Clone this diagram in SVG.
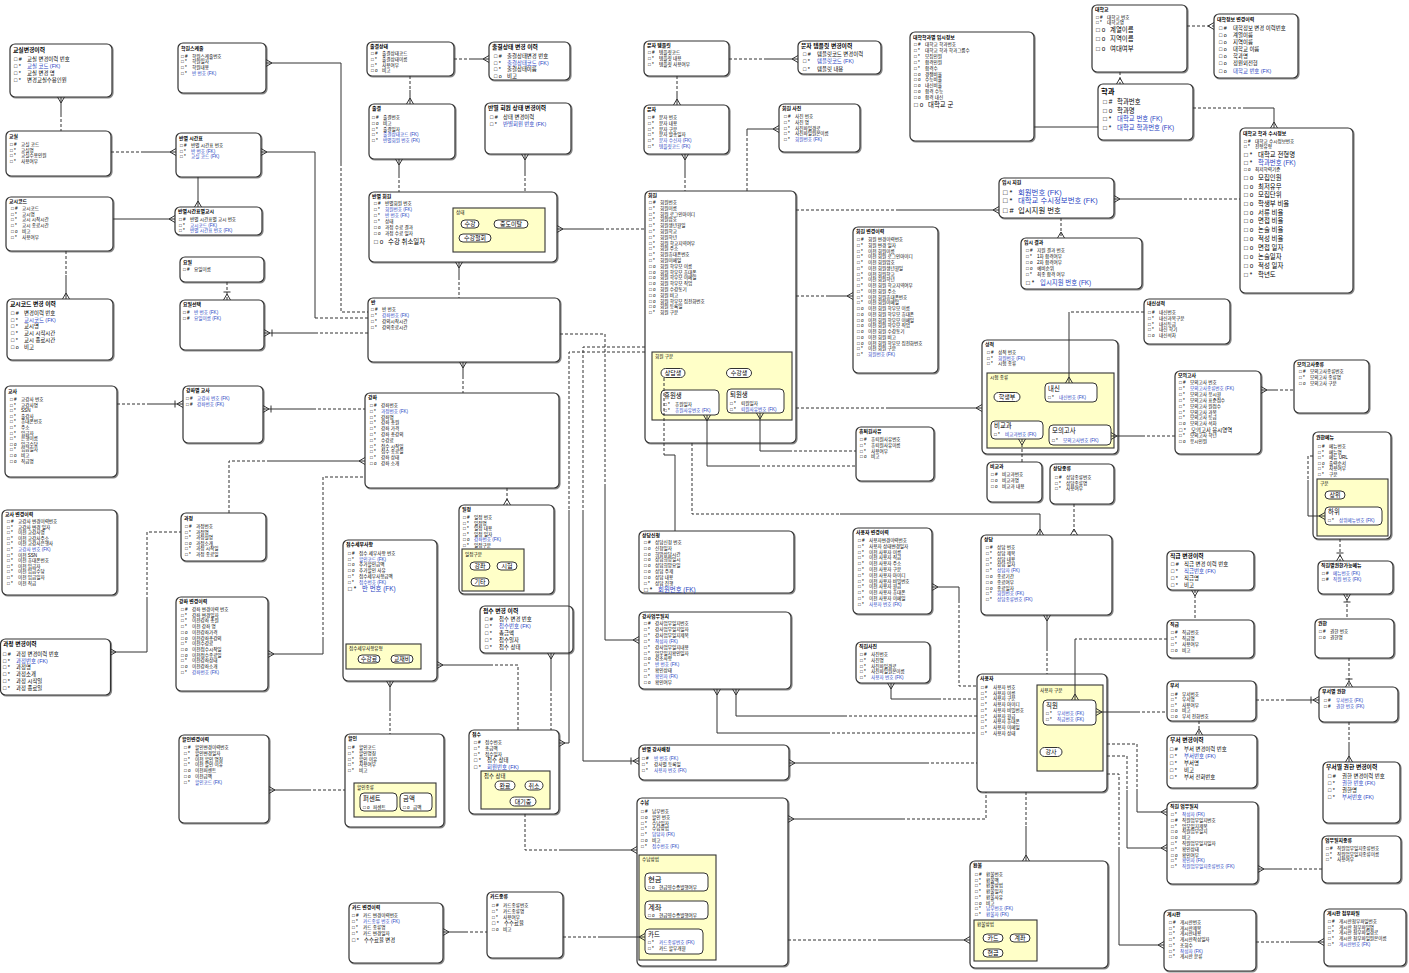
<svg xmlns="http://www.w3.org/2000/svg" width="1409" height="973" viewBox="0 0 1409 973">
<style>
text{font-family:"Liberation Sans","Noto Sans CJK KR",sans-serif;fill:#000}
.t{font-size:4.9px;font-weight:bold}
.tm{font-size:5.8px;font-weight:bold}
.s{font-size:4.6px}
.m{font-size:5.4px}
.l{font-size:6.4px}
.xl{font-size:7.4px}
.fk{fill:#1f3fbf}
.b{fill:#fff;stroke:#333;stroke-width:1.2;filter:url(#sh)}
.sub{fill:#ffffc8;stroke:#333;stroke-width:1.1}
.ch{fill:#fff;stroke:#333;stroke-width:1}
.ov{fill:#fff;stroke:#333;stroke-width:1}
.oc{text-anchor:middle;font-size:6px}
#connectors path{fill:none;stroke:#333;stroke-width:1}
#connectors .d{stroke-dasharray:3 2}
</style>
<defs>
<filter id="sh" x="-5%" y="-5%" width="115%" height="115%"><feDropShadow dx="1" dy="1" stdDeviation="0.5" flood-color="#888"/></filter>
<marker id="cf" viewBox="-10 -5 11 10" refX="0" refY="0" markerWidth="11" markerHeight="10" markerUnits="userSpaceOnUse" orient="auto-start-reverse"><path d="M-6,0L0,-3.5M-6,0L0,3.5" fill="none" stroke="#333" stroke-width="1"/></marker>
<marker id="cb" viewBox="-10 -5 11 10" refX="0" refY="0" markerWidth="11" markerHeight="10" markerUnits="userSpaceOnUse" orient="auto-start-reverse"><path d="M-6,0L0,-3.5M-6,0L0,3.5M-8,-3.5V3.5" fill="none" stroke="#333" stroke-width="1"/></marker>
</defs>
<rect width="1409" height="973" fill="#fff"/>

<g id="ent01" class="ent"><rect class="b" x="10" y="44" width="102" height="53" rx="5"/>
<text class="tm" x="13" y="51.5">교실변경이력</text>
<text class="m"><tspan x="14" y="61">□ #</tspan><tspan x="27">교실 변경이력 번호</tspan><tspan x="14" y="68">□ *</tspan><tspan x="27" class="fk">교실 코드 (FK)</tspan><tspan x="14" y="75">□ *</tspan><tspan x="27">교실 변경 명</tspan><tspan x="14" y="82">□ *</tspan><tspan x="27">변경교실수용인원</tspan></text></g>

<g id="ent02" class="ent"><rect class="b" x="178" y="43" width="88" height="50" rx="5"/>
<text class="t" x="181" y="49.5">학원스케줄</text>
<text class="s"><tspan x="181" y="57.5">□ #</tspan><tspan x="192">학원스케줄번호</tspan><tspan x="181" y="63.2">□ *</tspan><tspan x="192">학원일자</tspan><tspan x="181" y="68.9">□ *</tspan><tspan x="192">학원내용</tspan><tspan x="181" y="74.6">□ *</tspan><tspan x="192" class="fk">반 번호 (FK)</tspan></text></g>

<g id="ent03" class="ent"><rect class="b" x="6" y="131" width="105" height="45" rx="5"/>
<text class="t" x="9" y="138">교실</text>
<text class="s"><tspan x="10" y="146">□ #</tspan><tspan x="21">교실 코드</tspan><tspan x="10" y="151.7">□ *</tspan><tspan x="21">교실명</tspan><tspan x="10" y="157.4">□ *</tspan><tspan x="21">교실수용인원</tspan><tspan x="10" y="163.1">□ *</tspan><tspan x="21">사용여부</tspan></text></g>

<g id="ent04" class="ent"><rect class="b" x="176" y="133" width="85" height="44" rx="5"/>
<text class="t" x="179" y="139.5">반별 시간표</text>
<text class="s"><tspan x="180" y="147">□ #</tspan><tspan x="191">반별 시간표 번호</tspan><tspan x="180" y="152.7">□ *</tspan><tspan x="191" class="fk">반 번호 (FK)</tspan><tspan x="180" y="158.4">□ *</tspan><tspan x="191" class="fk">교실 코드 (FK)</tspan></text></g>

<g id="ent05" class="ent"><rect class="b" x="6" y="197" width="107" height="54" rx="5"/>
<text class="t" x="9" y="203">교시코드</text>
<text class="s"><tspan x="11" y="210">□ #</tspan><tspan x="22">교시코드</tspan><tspan x="11" y="215.7">□ *</tspan><tspan x="22">교시명</tspan><tspan x="11" y="221.4">□ *</tspan><tspan x="22">교시 시작시간</tspan><tspan x="11" y="227.1">□ *</tspan><tspan x="22">교시 종료시간</tspan><tspan x="11" y="232.8">□ o</tspan><tspan x="22">비고</tspan><tspan x="11" y="238.5">□ *</tspan><tspan x="22">사용여부</tspan></text></g>

<g id="ent06" class="ent"><rect class="b" x="175" y="207" width="87" height="28" rx="5"/>
<text class="t" x="178" y="213">반별시간표별교시</text>
<text class="s"><tspan x="179" y="221">□ #</tspan><tspan x="190">반별 시간표별 교시 번호</tspan><tspan x="179" y="226.7">□ *</tspan><tspan x="190" class="fk">교시코드 (FK)</tspan><tspan x="179" y="232.4">□ *</tspan><tspan x="190" class="fk">반별 시간표 번호 (FK)</tspan></text></g>

<g id="ent07" class="ent"><rect class="b" x="180" y="257" width="84" height="25" rx="5"/>
<text class="t" x="183" y="264">요일</text>
<text class="s"><tspan x="183" y="271">□ #</tspan><tspan x="194">요일이름</tspan></text></g>

<g id="ent08" class="ent"><rect class="b" x="180" y="300" width="84" height="50" rx="5"/>
<text class="t" x="183" y="306">요일선택</text>
<text class="s"><tspan x="183" y="314">□ #</tspan><tspan x="194" class="fk">반 번호 (FK)</tspan><tspan x="183" y="319.7">□ #</tspan><tspan x="194" class="fk">요일이름 (FK)</tspan></text></g>

<g id="ent09" class="ent"><rect class="b" x="7" y="299" width="106" height="61" rx="5"/>
<text class="tm" x="10" y="306">교시코드 변경 이력</text>
<text class="m"><tspan x="11" y="315">□ #</tspan><tspan x="24">변경이력 번호</tspan><tspan x="11" y="321.7">□ *</tspan><tspan x="24" class="fk">교시코드 (FK)</tspan><tspan x="11" y="328.4">□ *</tspan><tspan x="24">교시명</tspan><tspan x="11" y="335.1">□ *</tspan><tspan x="24">교시 시작시간</tspan><tspan x="11" y="341.8">□ *</tspan><tspan x="24">교시 종료시간</tspan><tspan x="11" y="348.5">□ o</tspan><tspan x="24">비고</tspan></text></g>

<g id="ent10" class="ent"><rect class="b" x="5" y="386" width="112" height="91" rx="5"/>
<text class="t" x="8" y="393">교사</text>
<text class="s"><tspan x="10" y="401">□ #</tspan><tspan x="21">교강사 번호</tspan><tspan x="10" y="406.6">□ *</tspan><tspan x="21">교강사명</tspan><tspan x="10" y="412.2">□ *</tspan><tspan x="21">SSN</tspan><tspan x="10" y="417.8">□ *</tspan><tspan x="21">출강사</tspan><tspan x="10" y="423.4">□ *</tspan><tspan x="21">휴대폰번호</tspan><tspan x="10" y="429">□ *</tspan><tspan x="21">주소</tspan><tspan x="10" y="434.6">□ *</tspan><tspan x="21">입금자</tspan><tspan x="10" y="440.2">□ *</tspan><tspan x="21">은행이름</tspan><tspan x="10" y="445.8">□ o</tspan><tspan x="21">입금수당</tspan><tspan x="10" y="451.4">□ *</tspan><tspan x="21">입금일자</tspan><tspan x="10" y="457">□ o</tspan><tspan x="21">비고</tspan><tspan x="10" y="462.6">□ o</tspan><tspan x="21">직급명</tspan></text></g>

<g id="ent11" class="ent"><rect class="b" x="183" y="386" width="80" height="57" rx="5"/>
<text class="t" x="186" y="392">강좌별 교사</text>
<text class="s"><tspan x="186" y="400">□ #</tspan><tspan x="197" class="fk">교강사 번호 (FK)</tspan><tspan x="186" y="405.7">□ #</tspan><tspan x="197" class="fk">강좌번호 (FK)</tspan></text></g>

<g id="ent12" class="ent"><rect class="b" x="2" y="510" width="115" height="85" rx="5"/>
<text class="t" x="5" y="515.5">교사 변경이력</text>
<text class="s"><tspan x="7" y="523">□ #</tspan><tspan x="18">교강사 변경이력번호</tspan><tspan x="7" y="528.6">□ *</tspan><tspan x="18">교강사 변경 일자</tspan><tspan x="7" y="534.2">□ *</tspan><tspan x="18">이전 교강사명</tspan><tspan x="7" y="539.8">□ *</tspan><tspan x="18">이전 교강사주소</tspan><tspan x="7" y="545.4">□ *</tspan><tspan x="18">이전 교강사은행사</tspan><tspan x="7" y="551">□ *</tspan><tspan x="18" class="fk">교강사 번호 (FK)</tspan><tspan x="7" y="556.6">□ *</tspan><tspan x="18">이전 SSN</tspan><tspan x="7" y="562.2">□ *</tspan><tspan x="18">이전 휴대폰번호</tspan><tspan x="7" y="567.8">□ *</tspan><tspan x="18">이전 입금자</tspan><tspan x="7" y="573.4">□ *</tspan><tspan x="18">이전 입금수당</tspan><tspan x="7" y="579">□ *</tspan><tspan x="18">이전 입금일자</tspan><tspan x="7" y="584.6">□ *</tspan><tspan x="18">이전 직급</tspan></text></g>

<g id="ent13" class="ent"><rect class="b" x="181" y="513" width="85" height="48" rx="5"/>
<text class="t" x="184" y="519.5">과정</text>
<text class="s"><tspan x="185" y="528">□ #</tspan><tspan x="196">과정번호</tspan><tspan x="185" y="533.6">□ *</tspan><tspan x="196">과정명</tspan><tspan x="185" y="539.2">□ *</tspan><tspan x="196">과정설명</tspan><tspan x="185" y="544.8">□ o</tspan><tspan x="196">과정소개</tspan><tspan x="185" y="550.4">□ *</tspan><tspan x="196">과정 시작일</tspan><tspan x="185" y="556">□ *</tspan><tspan x="196">과정 종료일</tspan></text></g>

<g id="ent14" class="ent"><rect class="b" x="176" y="597" width="92" height="94" rx="5"/>
<text class="t" x="179" y="603">강좌 변경이력</text>
<text class="s"><tspan x="181" y="611">□ #</tspan><tspan x="192">강좌 변경이력 번호</tspan><tspan x="181" y="616.7">□ *</tspan><tspan x="192">강좌 변경일자</tspan><tspan x="181" y="622.4">□ *</tspan><tspan x="192">이전강좌 총원</tspan><tspan x="181" y="628.1">□ *</tspan><tspan x="192">이전 강좌 명</tspan><tspan x="181" y="633.8">□ o</tspan><tspan x="192">이전강좌가격</tspan><tspan x="181" y="639.5">□ o</tspan><tspan x="192">이전강좌총강의</tspan><tspan x="181" y="645.2">□ *</tspan><tspan x="192">이전수강료</tspan><tspan x="181" y="650.9">□ o</tspan><tspan x="192">이전접수시작일</tspan><tspan x="181" y="656.6">□ o</tspan><tspan x="192">이전접수종료일</tspan><tspan x="181" y="662.3">□ *</tspan><tspan x="192">이전강좌상태</tspan><tspan x="181" y="668">□ o</tspan><tspan x="192">이전강좌소개</tspan><tspan x="181" y="673.7">□ *</tspan><tspan x="192" class="fk">강좌번호 (FK)</tspan></text></g>

<g id="ent15" class="ent"><rect class="b" x="0.5" y="639" width="110" height="56" rx="5"/>
<text class="tm" x="3" y="645.5">과정 변경이력</text>
<text class="m"><tspan x="3" y="656">□ #</tspan><tspan x="16">과정 변경이력 번호</tspan><tspan x="3" y="662.7">□ *</tspan><tspan x="16" class="fk">과정번호 (FK)</tspan><tspan x="3" y="669.4">□ *</tspan><tspan x="16">과정명</tspan><tspan x="3" y="676.1">□ *</tspan><tspan x="16">과정소개</tspan><tspan x="3" y="682.8">□ *</tspan><tspan x="16">과정 시작일</tspan><tspan x="3" y="689.5">□ *</tspan><tspan x="16">과정 종료일</tspan></text></g>

<g id="ent16" class="ent"><rect class="b" x="179" y="735" width="90" height="88" rx="5"/>
<text class="t" x="182" y="741">할인변경이력</text>
<text class="s"><tspan x="184" y="749">□ #</tspan><tspan x="195">할인변경이력번호</tspan><tspan x="184" y="754.8">□ *</tspan><tspan x="195">할인변경일자</tspan><tspan x="184" y="760.6">□ *</tspan><tspan x="195">이전 할인 명칭</tspan><tspan x="184" y="766.4">□ *</tspan><tspan x="195">이전 할인 이유</tspan><tspan x="184" y="772.2">□ o</tspan><tspan x="195">이전퍼센트</tspan><tspan x="184" y="778">□ o</tspan><tspan x="195">이전금액</tspan><tspan x="184" y="783.8">□ *</tspan><tspan x="195" class="fk">할인코드 (FK)</tspan></text></g>

<g id="ent17" class="ent"><rect class="b" x="367" y="42" width="87" height="34" rx="5"/>
<text class="t" x="370" y="48">출결상태</text>
<text class="s"><tspan x="371" y="55">□ #</tspan><tspan x="382">출결상태코드</tspan><tspan x="371" y="60.8">□ *</tspan><tspan x="382">출결상태이름</tspan><tspan x="371" y="66.6">□ *</tspan><tspan x="382">사용여부</tspan><tspan x="371" y="72.4">□ o</tspan><tspan x="382">비고</tspan></text></g>

<g id="ent18" class="ent"><rect class="b" x="489" y="42" width="81" height="38" rx="5"/>
<text class="tm" x="492" y="49">출결상태 변경 이력</text>
<text class="m"><tspan x="494" y="58">□ #</tspan><tspan x="507">출결상태변경 번호</tspan><tspan x="494" y="64.5">□ *</tspan><tspan x="507" class="fk">출결상태코드 (FK)</tspan><tspan x="494" y="71">□ *</tspan><tspan x="507">출결상태이름</tspan><tspan x="494" y="77.5">□ o</tspan><tspan x="507">비고</tspan></text></g>

<g id="ent19" class="ent"><rect class="b" x="369" y="104" width="86" height="55" rx="5"/>
<text class="t" x="372" y="110">출결</text>
<text class="s"><tspan x="372" y="119">□ #</tspan><tspan x="383">출결번호</tspan><tspan x="372" y="124.8">□ o</tspan><tspan x="383">비고</tspan><tspan x="372" y="130.6">□ *</tspan><tspan x="383">출결일자</tspan><tspan x="372" y="136.4">□ *</tspan><tspan x="383" class="fk">출결상태코드 (FK)</tspan><tspan x="372" y="142.2">□ *</tspan><tspan x="383" class="fk">반별회원 번호 (FK)</tspan></text></g>

<g id="ent20" class="ent"><rect class="b" x="485" y="103" width="86" height="51" rx="5"/>
<text class="tm" x="488" y="110">반별 회원 상태 변경이력</text>
<text class="m"><tspan x="490" y="119">□ #</tspan><tspan x="503">상태 변경이력</tspan><tspan x="490" y="126">□ *</tspan><tspan x="503" class="fk">반별회원 번호 (FK)</tspan></text></g>

<g id="ent21" class="ent"><rect class="b" x="369" y="192" width="188" height="70" rx="5"/>
<text class="t" x="372" y="197.5">반별 회원</text>
<text class="s"><tspan x="374" y="205">□ #</tspan><tspan x="385">반별회원 번호</tspan><tspan x="374" y="211">□ *</tspan><tspan x="385" class="fk">회원번호 (FK)</tspan><tspan x="374" y="217">□ *</tspan><tspan x="385" class="fk">반 번호 (FK)</tspan><tspan x="374" y="223">□ *</tspan><tspan x="385">상태</tspan><tspan x="374" y="229">□ o</tspan><tspan x="385">과정 수료 결과</tspan><tspan x="374" y="235">□ o</tspan><tspan x="385">과정 수료 일자</tspan></text>
<text class="l"><tspan x="374" y="244">□ o</tspan><tspan x="388">수강 취소일자</tspan></text>
<rect class="sub" x="453" y="208" width="92" height="44"/>
<text class="s" x="456" y="214">상태</text>
<rect class="ov" x="461" y="220" width="18" height="8" rx="4"/><text class="oc" x="470" y="226.2">수강</text>
<rect class="ov" x="494" y="220" width="34" height="8" rx="4"/><text class="oc" x="511" y="226.2">중도이탈</text>
<rect class="ov" x="459" y="234" width="32" height="8" rx="4"/><text class="oc" x="475" y="240.2">수강철회</text></g>

<g id="ent22" class="ent"><rect class="b" x="368" y="298" width="192" height="64" rx="5"/>
<text class="t" x="371" y="304">반</text>
<text class="s"><tspan x="371" y="311">□ #</tspan><tspan x="382">반 번호</tspan><tspan x="371" y="317">□ *</tspan><tspan x="382" class="fk">강좌번호 (FK)</tspan><tspan x="371" y="323">□ *</tspan><tspan x="382">강의시작시간</tspan><tspan x="371" y="329">□ *</tspan><tspan x="382">강의종료시간</tspan></text></g>

<g id="ent23" class="ent"><rect class="b" x="365" y="393" width="194" height="95" rx="5"/>
<text class="t" x="368" y="399">강좌</text>
<text class="s"><tspan x="370" y="407">□ #</tspan><tspan x="381">강좌번호</tspan><tspan x="370" y="412.8">□ *</tspan><tspan x="381" class="fk">과정번호 (FK)</tspan><tspan x="370" y="418.6">□ *</tspan><tspan x="381">강좌명</tspan><tspan x="370" y="424.4">□ *</tspan><tspan x="381">강좌 총원</tspan><tspan x="370" y="430.2">□ *</tspan><tspan x="381">강좌 가격</tspan><tspan x="370" y="436">□ *</tspan><tspan x="381">강좌 총강의</tspan><tspan x="370" y="441.8">□ *</tspan><tspan x="381">수강료</tspan><tspan x="370" y="447.6">□ *</tspan><tspan x="381">접수 시작일</tspan><tspan x="370" y="453.4">□ *</tspan><tspan x="381">접수 종료일</tspan><tspan x="370" y="459.2">□ *</tspan><tspan x="381">강좌 상태</tspan><tspan x="370" y="465">□ o</tspan><tspan x="381">강좌 소개</tspan></text></g>

<g id="ent24" class="ent"><rect class="b" x="459" y="505" width="95" height="89" rx="5"/>
<text class="t" x="462" y="511">일정</text>
<text class="s"><tspan x="463" y="519">□ #</tspan><tspan x="474">일정 번호</tspan><tspan x="463" y="524.6">□ *</tspan><tspan x="474">일정명</tspan><tspan x="463" y="530.2">□ *</tspan><tspan x="474">일정 내용</tspan><tspan x="463" y="535.8">□ *</tspan><tspan x="474">일정 일자</tspan><tspan x="463" y="541.4">□ o</tspan><tspan x="474" class="fk">강좌번호 (FK)</tspan><tspan x="463" y="547">□ *</tspan><tspan x="474">일정구분</tspan></text>
<rect class="sub" x="462" y="549" width="62" height="42"/>
<text class="s" x="465" y="556">일정구분</text>
<rect class="ov" x="470" y="562" width="20" height="8" rx="4"/><text class="oc" x="480" y="568.2">강좌</text>
<rect class="ov" x="497" y="562" width="20" height="8" rx="4"/><text class="oc" x="507" y="568.2">시험</text>
<rect class="ov" x="471" y="578" width="18" height="8" rx="4"/><text class="oc" x="480" y="584.2">기타</text></g>

<g id="ent25" class="ent"><rect class="b" x="343" y="540" width="94" height="141" rx="5"/>
<text class="t" x="346" y="546">접수세부사항</text>
<text class="s"><tspan x="348" y="555">□ #</tspan><tspan x="359">접수 세부사항 번호</tspan><tspan x="348" y="560.7">□ *</tspan><tspan x="359" class="fk">할인코드 (FK)</tspan><tspan x="348" y="566.4">□ o</tspan><tspan x="359">추가할인금액</tspan><tspan x="348" y="572.1">□ o</tspan><tspan x="359">추가할인 사유</tspan><tspan x="348" y="577.8">□ *</tspan><tspan x="359">접수세부사항금액</tspan><tspan x="348" y="583.5">□ *</tspan><tspan x="359" class="fk">접수번호 (FK)</tspan></text>
<text class="l"><tspan x="348" y="591">□ *</tspan><tspan x="362" class="fk">반 번호 (FK)</tspan></text>
<rect class="sub" x="346" y="644" width="75" height="25"/>
<text class="s" x="349" y="649.5">접수세부사항유형</text>
<rect class="ov" x="358" y="655" width="22" height="8" rx="4"/><text class="oc" x="369" y="661.2">수강료</text>
<rect class="ov" x="391" y="655" width="22" height="8" rx="4"/><text class="oc" x="402" y="661.2">교재비</text></g>

<g id="ent26" class="ent"><rect class="b" x="480" y="606" width="93" height="47" rx="5"/>
<text class="tm" x="483" y="612.5">접수 변경 이력</text>
<text class="m"><tspan x="485" y="621">□ #</tspan><tspan x="499">접수 변경 번호</tspan><tspan x="485" y="628">□ *</tspan><tspan x="499" class="fk">접수번호 (FK)</tspan><tspan x="485" y="635">□ *</tspan><tspan x="499">총금액</tspan><tspan x="485" y="642">□ *</tspan><tspan x="499">접수일자</tspan><tspan x="485" y="649">□ *</tspan><tspan x="499">접수 상태</tspan></text></g>

<g id="ent27" class="ent"><rect class="b" x="345" y="734" width="99" height="93" rx="5"/>
<text class="t" x="348" y="740">할인</text>
<text class="s"><tspan x="348" y="749">□ #</tspan><tspan x="359">할인코드</tspan><tspan x="348" y="754.8">□ *</tspan><tspan x="359">할인명칭</tspan><tspan x="348" y="760.6">□ *</tspan><tspan x="359">할인 이유</tspan><tspan x="348" y="766.4">□ *</tspan><tspan x="359">사용여부</tspan><tspan x="348" y="772.2">□ *</tspan><tspan x="359">비고</tspan></text>
<rect class="sub" x="354" y="783" width="82" height="34"/>
<text class="s" x="357" y="789">할인종류</text>
<rect class="ch" x="360" y="793" width="37" height="18" rx="4"/>
<text class="l" x="363" y="801">퍼센트</text>
<text class="s"><tspan x="363" y="808.5">□ o</tspan><tspan x="373">퍼센트</tspan></text>
<rect class="ch" x="400" y="793" width="32" height="18" rx="4"/>
<text class="l" x="403" y="801">금액</text>
<text class="s"><tspan x="403" y="808.5">□ o</tspan><tspan x="413">금액</tspan></text></g>

<g id="ent28" class="ent"><rect class="b" x="469" y="730" width="90" height="84" rx="5"/>
<text class="t" x="472" y="735.5">접수</text>
<text class="s"><tspan x="474" y="744">□ #</tspan><tspan x="485">접수번호</tspan><tspan x="474" y="749.8">□ *</tspan><tspan x="485">총금액</tspan><tspan x="474" y="755.6">□ *</tspan><tspan x="485">접수일자</tspan></text>
<text class="m"><tspan x="474" y="762">□ *</tspan><tspan x="487">접수 상태</tspan><tspan x="474" y="768.5">□ *</tspan><tspan x="487" class="fk">회원번호 (FK)</tspan></text>
<rect class="sub" x="481" y="771" width="69" height="38"/>
<text class="m" x="484" y="777.5">접수 상태</text>
<rect class="ov" x="495" y="781" width="20" height="9" rx="4.5"/><text class="oc" x="505" y="787.6">완료</text>
<rect class="ov" x="525" y="781" width="18" height="9" rx="4.5"/><text class="oc" x="534" y="787.6">취소</text>
<rect class="ov" x="510" y="797" width="26" height="9" rx="4.5"/><text class="oc" x="523" y="803.6">대기중</text></g>

<g id="ent29" class="ent"><rect class="b" x="349" y="903" width="94" height="60" rx="5"/>
<text class="t" x="352" y="909">카드 변경이력</text>
<text class="s"><tspan x="352" y="917">□ #</tspan><tspan x="363">카드 변경이력번호</tspan><tspan x="352" y="923">□ *</tspan><tspan x="363" class="fk">카드종류 번호 (FK)</tspan><tspan x="352" y="929">□ *</tspan><tspan x="363">카드 종류명</tspan><tspan x="352" y="935">□ *</tspan><tspan x="363">카드 변경일자</tspan></text>
<text class="m"><tspan x="352" y="942">□ *</tspan><tspan x="364">수수료율 변경</tspan></text></g>

<g id="ent30" class="ent"><rect class="b" x="487" y="892" width="76" height="66" rx="5"/>
<text class="t" x="490" y="898">카드종류</text>
<text class="s"><tspan x="492" y="907">□ #</tspan><tspan x="503">카드종류번호</tspan><tspan x="492" y="912.8">□ *</tspan><tspan x="503">카드종류명</tspan><tspan x="492" y="918.6">□ *</tspan><tspan x="503">사용여부</tspan><tspan x="492" y="931">□ o</tspan><tspan x="503">비고</tspan></text>
<text class="m"><tspan x="492" y="925">□ *</tspan><tspan x="504">수수료율</tspan></text></g>

<g id="ent31" class="ent"><rect class="b" x="644" y="41" width="85" height="35" rx="5"/>
<text class="t" x="647" y="46.5">문자 템플릿</text>
<text class="s"><tspan x="648" y="54">□ #</tspan><tspan x="659">템플릿코드</tspan><tspan x="648" y="60">□ *</tspan><tspan x="659">템플릿 내용</tspan><tspan x="648" y="66">□ *</tspan><tspan x="659">템플릿 사용여부</tspan></text></g>

<g id="ent32" class="ent"><rect class="b" x="798" y="41" width="83" height="33" rx="5"/>
<text class="tm" x="801" y="48">문자 템플릿 변경이력</text>
<text class="m"><tspan x="803" y="56">□ #</tspan><tspan x="817">템플릿코드 변경이력</tspan><tspan x="803" y="63.3">□ *</tspan><tspan x="817" class="fk">템플릿코드 (FK)</tspan><tspan x="803" y="70.6">□ *</tspan><tspan x="817">템플릿 내용</tspan></text></g>

<g id="ent33" class="ent"><rect class="b" x="644" y="105" width="85" height="49" rx="5"/>
<text class="t" x="647" y="110.5">문자</text>
<text class="s"><tspan x="648" y="119">□ #</tspan><tspan x="659">문자 번호</tspan><tspan x="648" y="124.8">□ *</tspan><tspan x="659">문자 내용</tspan><tspan x="648" y="130.6">□ *</tspan><tspan x="659">문자 구분</tspan><tspan x="648" y="136.4">□ *</tspan><tspan x="659">문자 발송일자</tspan><tspan x="648" y="142.2">□ *</tspan><tspan x="659" class="fk">문자 수신자 (FK)</tspan><tspan x="648" y="148">□ *</tspan><tspan x="659" class="fk">템플릿코드 (FK)</tspan></text></g>

<g id="ent34" class="ent"><rect class="b" x="779" y="104" width="81" height="48" rx="5"/>
<text class="t" x="782" y="109.5">회원 사진</text>
<text class="s"><tspan x="784" y="118">□ #</tspan><tspan x="795">사진 번호</tspan><tspan x="784" y="123.8">□ *</tspan><tspan x="795">사진 명</tspan><tspan x="784" y="129.6">□ *</tspan><tspan x="795">사진파일경로</tspan><tspan x="784" y="135.4">□ *</tspan><tspan x="795">사진파일원본이름</tspan><tspan x="784" y="141.2">□ *</tspan><tspan x="795" class="fk">회원번호 (FK)</tspan></text></g>

<g id="ent35" class="ent"><rect class="b" x="645" y="191" width="151" height="252" rx="5"/>
<text class="t" x="648" y="197">회원</text>
<text class="s"><tspan x="649" y="204">□ #</tspan><tspan x="660">회원번호</tspan><tspan x="649" y="209.8">□ *</tspan><tspan x="660">회원이름</tspan><tspan x="649" y="215.6">□ *</tspan><tspan x="660">회원 로그인아이디</tspan><tspan x="649" y="221.4">□ *</tspan><tspan x="660">회원암호</tspan><tspan x="649" y="227.2">□ *</tspan><tspan x="660">회원생년월일</tspan><tspan x="649" y="233">□ *</tspan><tspan x="660">회원학교</tspan><tspan x="649" y="238.8">□ *</tspan><tspan x="660">회원학년</tspan><tspan x="649" y="244.6">□ *</tspan><tspan x="660">회원 학교지역여부</tspan><tspan x="649" y="250.4">□ *</tspan><tspan x="660">회원 주소</tspan><tspan x="649" y="256.2">□ *</tspan><tspan x="660">회원휴대폰번호</tspan><tspan x="649" y="262">□ *</tspan><tspan x="660">회원이메일</tspan><tspan x="649" y="267.8">□ o</tspan><tspan x="660">회원 학부모 이름</tspan><tspan x="649" y="273.6">□ o</tspan><tspan x="660">회원 학부모 휴대폰</tspan><tspan x="649" y="279.4">□ o</tspan><tspan x="660">회원 학부모 이메일</tspan><tspan x="649" y="285.2">□ o</tspan><tspan x="660">회원 학부모 직업</tspan><tspan x="649" y="291">□ o</tspan><tspan x="660">회원 수강동기</tspan><tspan x="649" y="296.8">□ o</tspan><tspan x="660">회원 비고</tspan><tspan x="649" y="302.6">□ o</tspan><tspan x="660">회원 학부모 집전화번호</tspan><tspan x="649" y="308.4">□ o</tspan><tspan x="660">회원 등록일</tspan><tspan x="649" y="314.2">□ *</tspan><tspan x="660">회원 구분</tspan></text>
<rect class="sub" x="652" y="352" width="140" height="68"/>
<text class="s" x="655" y="358">회원 구분</text>
<rect class="ov" x="661" y="368.5" width="24" height="9" rx="4.5"/><text class="oc" x="673" y="375.2">상담생</text>
<rect class="ov" x="726.5" y="368.5" width="25" height="9" rx="4.5"/><text class="oc" x="739" y="375.2">수강생</text>
<rect class="ch" x="661" y="390" width="58" height="25" rx="4"/>
<text class="l" x="664" y="398">휴원생</text>
<text class="s"><tspan x="664" y="406">□ *</tspan><tspan x="675">휴원일자</tspan><tspan x="664" y="412">□ *</tspan><tspan x="675" class="fk">휴원사유번호 (FK)</tspan></text>
<rect class="ch" x="727" y="389" width="57" height="24" rx="4"/>
<text class="l" x="730" y="397">퇴원생</text>
<text class="s"><tspan x="730" y="405">□ *</tspan><tspan x="741">퇴원일자</tspan><tspan x="730" y="411">□ *</tspan><tspan x="741" class="fk">퇴원사유번호 (FK)</tspan></text></g>

<g id="ent36" class="ent"><rect class="b" x="853" y="227" width="85" height="146" rx="5"/>
<text class="t" x="856" y="232.5">회원 변경이력</text>
<text class="s"><tspan x="857" y="241">□ #</tspan><tspan x="868">회원 변경이력번호</tspan><tspan x="857" y="246.75">□ *</tspan><tspan x="868">회원 변경 일자</tspan><tspan x="857" y="252.5">□ *</tspan><tspan x="868">이전 회원이름</tspan><tspan x="857" y="258.25">□ *</tspan><tspan x="868">이전 회원 로그인아이디</tspan><tspan x="857" y="264">□ *</tspan><tspan x="868">이전 회원암호</tspan><tspan x="857" y="269.75">□ *</tspan><tspan x="868">이전 회원생년월일</tspan><tspan x="857" y="275.5">□ *</tspan><tspan x="868">이전 회원학교</tspan><tspan x="857" y="281.25">□ *</tspan><tspan x="868">이전 회원학년</tspan><tspan x="857" y="287">□ *</tspan><tspan x="868">이전 회원 학교지역여부</tspan><tspan x="857" y="292.75">□ *</tspan><tspan x="868">이전 회원 주소</tspan><tspan x="857" y="298.5">□ *</tspan><tspan x="868">이전 회원휴대폰번호</tspan><tspan x="857" y="304.25">□ *</tspan><tspan x="868">이전 회원이메일</tspan><tspan x="857" y="310">□ o</tspan><tspan x="868">이전 회원 학부모 이름</tspan><tspan x="857" y="315.75">□ o</tspan><tspan x="868">이전 회원 학부모 휴대폰</tspan><tspan x="857" y="321.5">□ o</tspan><tspan x="868">이전 회원 학부모 이메일</tspan><tspan x="857" y="327.25">□ o</tspan><tspan x="868">이전 회원 학부모 직업</tspan><tspan x="857" y="333">□ o</tspan><tspan x="868">이전 회원 수강동기</tspan><tspan x="857" y="338.75">□ o</tspan><tspan x="868">이전 회원 비고</tspan><tspan x="857" y="344.5">□ o</tspan><tspan x="868">이전 회원 학부모 집전화번호</tspan><tspan x="857" y="350.25">□ *</tspan><tspan x="868">이전 회원 구분</tspan><tspan x="857" y="356">□ *</tspan><tspan x="868" class="fk">회원번호 (FK)</tspan></text></g>

<g id="ent37" class="ent"><rect class="b" x="910" y="32" width="124" height="109" rx="5"/>
<text class="t" x="913" y="38.5">대학학과별 입시정보</text>
<text class="s"><tspan x="914" y="46">□ #</tspan><tspan x="925">대학교 학과번호</tspan><tspan x="914" y="51.9">□ *</tspan><tspan x="925">대학교 학과 학과그룹수</tspan><tspan x="914" y="57.8">□ *</tspan><tspan x="925">모집인원</tspan><tspan x="914" y="63.7">□ *</tspan><tspan x="925">합격인원</tspan><tspan x="914" y="69.6">□ *</tspan><tspan x="925">합격수</tspan><tspan x="914" y="75.5">□ o</tspan><tspan x="925">경쟁비율</tspan><tspan x="914" y="81.4">□ o</tspan><tspan x="925">수능비율</tspan><tspan x="914" y="87.3">□ o</tspan><tspan x="925">내신비율</tspan><tspan x="914" y="93.2">□ o</tspan><tspan x="925">합격 수능</tspan><tspan x="914" y="99.1">□ o</tspan><tspan x="925">합격 내신</tspan></text>
<text class="l"><tspan x="914" y="106.5">□ o</tspan><tspan x="928">대학교 군</tspan></text></g>

<g id="ent38" class="ent"><rect class="b" x="1092" y="5" width="95" height="67" rx="5"/>
<text class="t" x="1095" y="10.5">대학교</text>
<text class="s"><tspan x="1096" y="18.5">□ #</tspan><tspan x="1107">대학교 번호</tspan><tspan x="1096" y="24">□ *</tspan><tspan x="1107">대학교명</tspan></text>
<text class="l"><tspan x="1096" y="31.5">□ o</tspan><tspan x="1110">계열이름</tspan><tspan x="1096" y="40.5">□ o</tspan><tspan x="1110">지역이름</tspan><tspan x="1096" y="50.5">□ o</tspan><tspan x="1110">여대여부</tspan></text></g>

<g id="ent39" class="ent"><rect class="b" x="1214" y="14" width="84" height="64" rx="5"/>
<text class="t" x="1217" y="20.5">대학정보 변경이력</text>
<text class="m"><tspan x="1219" y="30">□ #</tspan><tspan x="1233">대학정보 변경 이력번호</tspan><tspan x="1219" y="37">□ o</tspan><tspan x="1233">계열이름</tspan><tspan x="1219" y="44">□ o</tspan><tspan x="1233">지역이름</tspan><tspan x="1219" y="51">□ o</tspan><tspan x="1233">대학교 이름</tspan><tspan x="1219" y="58">□ o</tspan><tspan x="1233">학과명</tspan><tspan x="1219" y="65">□ o</tspan><tspan x="1233">정원외전형</tspan><tspan x="1219" y="72.5">□ o</tspan><tspan x="1233" class="fk">대학교 번호 (FK)</tspan></text></g>

<g id="ent40" class="ent"><rect class="b" x="1098" y="84" width="95" height="56" rx="5"/>
<text class="xl" x="1101" y="94" font-weight="bold">학과</text>
<text class="l"><tspan x="1103" y="104">□ #</tspan><tspan x="1117">학과번호</tspan><tspan x="1103" y="112.5">□ o</tspan><tspan x="1117">학과명</tspan><tspan x="1103" y="121">□ *</tspan><tspan x="1117" class="fk">대학교 번호 (FK)</tspan><tspan x="1103" y="130">□ *</tspan><tspan x="1117" class="fk">대학교 학과번호 (FK)</tspan></text></g>

<g id="ent41" class="ent"><rect class="b" x="1240" y="128" width="113" height="165" rx="5"/>
<text class="t" x="1243" y="135">대학교 학과 수시정보</text>
<text class="s"><tspan x="1244" y="142.5">□ #</tspan><tspan x="1255">대학교 수시정보번호</tspan><tspan x="1244" y="148">□ *</tspan><tspan x="1255">전형유형</tspan><tspan x="1244" y="171">□ o</tspan><tspan x="1255">최저학력기준</tspan></text>
<text class="l"><tspan x="1244" y="156.5">□ *</tspan><tspan x="1258">대학교 전형명</tspan><tspan x="1244" y="165">□ *</tspan><tspan x="1258" class="fk">학과번호 (FK)</tspan><tspan x="1244" y="180">□ o</tspan><tspan x="1258">모집인원</tspan><tspan x="1244" y="188.5">□ o</tspan><tspan x="1258">최저유무</tspan><tspan x="1244" y="197">□ o</tspan><tspan x="1258">모집단위</tspan><tspan x="1244" y="206">□ o</tspan><tspan x="1258">학생부 비율</tspan><tspan x="1244" y="214.5">□ o</tspan><tspan x="1258">서류 비율</tspan><tspan x="1244" y="223">□ o</tspan><tspan x="1258">면접 비율</tspan><tspan x="1244" y="232">□ o</tspan><tspan x="1258">논술 비율</tspan><tspan x="1244" y="241">□ o</tspan><tspan x="1258">적성 비율</tspan><tspan x="1244" y="250">□ o</tspan><tspan x="1258">면접 일자</tspan><tspan x="1244" y="259">□ o</tspan><tspan x="1258">논술일자</tspan><tspan x="1244" y="268">□ o</tspan><tspan x="1258">적성 일자</tspan><tspan x="1244" y="277">□ *</tspan><tspan x="1258">학년도</tspan></text></g>

<g id="ent42" class="ent"><rect class="b" x="999" y="178" width="115" height="40" rx="5"/>
<text class="t" x="1002" y="184">입시 지원</text>
<text class="xl"><tspan x="1003" y="194.5">□ *</tspan><tspan x="1018" class="fk">회원번호 (FK)</tspan><tspan x="1003" y="202.5">□ *</tspan><tspan x="1018" class="fk">대학교 수시정보번호 (FK)</tspan><tspan x="1003" y="212.5">□ #</tspan><tspan x="1018">입시지원 번호</tspan></text></g>

<g id="ent43" class="ent"><rect class="b" x="1021" y="238" width="121" height="51" rx="5"/>
<text class="t" x="1024" y="244">입시 결과</text>
<text class="s"><tspan x="1026" y="252">□ #</tspan><tspan x="1037">지원 결과 번호</tspan><tspan x="1026" y="258">□ *</tspan><tspan x="1037">1차 합격여부</tspan><tspan x="1026" y="264">□ o</tspan><tspan x="1037">2차 합격여부</tspan><tspan x="1026" y="270">□ o</tspan><tspan x="1037">예비순위</tspan><tspan x="1026" y="276">□ *</tspan><tspan x="1037">최종 합격 여부</tspan></text>
<text class="l"><tspan x="1026" y="284.5">□ *</tspan><tspan x="1040" class="fk">입시지원 번호 (FK)</tspan></text></g>

<g id="ent44" class="ent"><rect class="b" x="1144" y="299" width="86" height="45" rx="5"/>
<text class="t" x="1147" y="305">내신성적</text>
<text class="s"><tspan x="1148" y="314">□ #</tspan><tspan x="1159">내신번호</tspan><tspan x="1148" y="319.8">□ *</tspan><tspan x="1159">내신과목구분</tspan><tspan x="1148" y="325.6">□ *</tspan><tspan x="1159">내신등급</tspan><tspan x="1148" y="331.4">□ *</tspan><tspan x="1159">내신 학기</tspan><tspan x="1148" y="337.2">□ o</tspan><tspan x="1159">내신석차</tspan></text></g>

<g id="ent45" class="ent"><rect class="b" x="982" y="340" width="136" height="114" rx="5"/>
<text class="t" x="985" y="345.5">성적</text>
<text class="s"><tspan x="987" y="354">□ #</tspan><tspan x="998">성적 번호</tspan><tspan x="987" y="359.6">□ *</tspan><tspan x="998" class="fk">회원번호 (FK)</tspan><tspan x="987" y="365.2">□ *</tspan><tspan x="998">시험 종류</tspan></text>
<rect class="sub" x="987" y="373" width="127" height="75"/>
<text class="s" x="990" y="379">시험 종류</text>
<rect class="ov" x="994" y="392.5" width="26" height="9" rx="4.5"/><text class="oc" x="1007" y="399.2">학생부</text>
<rect class="ch" x="1045" y="383" width="52" height="19" rx="4"/>
<text class="l" x="1048" y="390.5">내신</text>
<text class="s"><tspan x="1048" y="398.5">□ *</tspan><tspan x="1059" class="fk">내신번호 (FK)</tspan></text>
<rect class="ch" x="991" y="421" width="52" height="18" rx="4"/>
<text class="l" x="994" y="428">비교과</text>
<text class="s"><tspan x="994" y="436">□ *</tspan><tspan x="1005" class="fk">비교과번호 (FK)</tspan></text>
<rect class="ch" x="1049" y="425" width="62" height="20" rx="4"/>
<text class="l" x="1052" y="433">모의고사</text>
<text class="s"><tspan x="1052" y="441.5">□ *</tspan><tspan x="1063" class="fk">모의고사번호 (FK)</tspan></text></g>

<g id="ent46" class="ent"><rect class="b" x="1175" y="371" width="86" height="83" rx="5"/>
<text class="t" x="1178" y="377">모의고사</text>
<text class="s"><tspan x="1179" y="384">□ #</tspan><tspan x="1190">모의고사 번호</tspan><tspan x="1179" y="389.9">□ *</tspan><tspan x="1190" class="fk">모의고사종류번호 (FK)</tspan><tspan x="1179" y="395.8">□ *</tspan><tspan x="1190">모의고사 응시월</tspan><tspan x="1179" y="401.7">□ *</tspan><tspan x="1190">모의고사 표준점수</tspan><tspan x="1179" y="407.6">□ *</tspan><tspan x="1190">모의고사 원점수</tspan><tspan x="1179" y="413.5">□ *</tspan><tspan x="1190">모의고사 과목</tspan><tspan x="1179" y="419.4">□ *</tspan><tspan x="1190">모의고사 등급</tspan><tspan x="1179" y="425.3">□ o</tspan><tspan x="1190">모의고사 석차</tspan><tspan x="1179" y="437.1">□ *</tspan><tspan x="1190">모의고사 학년</tspan><tspan x="1179" y="443">□ o</tspan><tspan x="1190">응시인원</tspan></text>
<text class="m"><tspan x="1179" y="431.5">□ *</tspan><tspan x="1191">모의고사 응시영역</tspan></text></g>

<g id="ent47" class="ent"><rect class="b" x="1294" y="360" width="75" height="53" rx="5"/>
<text class="t" x="1297" y="365.5">모의고사종류</text>
<text class="s"><tspan x="1299" y="373">□ #</tspan><tspan x="1310">모의고사종류번호</tspan><tspan x="1299" y="379">□ *</tspan><tspan x="1310">모의고사 종류명</tspan><tspan x="1299" y="385">□ o</tspan><tspan x="1310">모의고사 구분</tspan></text></g>

<g id="ent48" class="ent"><rect class="b" x="987" y="462" width="55" height="40" rx="5"/>
<text class="t" x="990" y="468">비교과</text>
<text class="s"><tspan x="991" y="476">□ #</tspan><tspan x="1002">비교과번호</tspan><tspan x="991" y="482">□ o</tspan><tspan x="1002">비교과명</tspan><tspan x="991" y="488">□ o</tspan><tspan x="1002">비교과 내용</tspan></text></g>

<g id="ent49" class="ent"><rect class="b" x="1050" y="464" width="64" height="40" rx="5"/>
<text class="t" x="1053" y="470">상담종류</text>
<text class="s"><tspan x="1055" y="479">□ #</tspan><tspan x="1066">상담종류번호</tspan><tspan x="1055" y="484.7">□ *</tspan><tspan x="1066">상담종류명</tspan><tspan x="1055" y="490.4">□ *</tspan><tspan x="1066">사용여부</tspan></text></g>

<g id="ent50" class="ent"><rect class="b" x="1313" y="432" width="78" height="107" rx="5"/>
<text class="t" x="1316" y="438.5">권한메뉴</text>
<text class="s"><tspan x="1318" y="448">□ #</tspan><tspan x="1329">메뉴번호</tspan><tspan x="1318" y="453.6">□ *</tspan><tspan x="1329">메뉴명</tspan><tspan x="1318" y="459.2">□ *</tspan><tspan x="1329">메뉴 URL</tspan><tspan x="1318" y="464.8">□ o</tspan><tspan x="1329">출력순서</tspan><tspan x="1318" y="470.4">□ *</tspan><tspan x="1329">사용여부</tspan><tspan x="1318" y="476">□ *</tspan><tspan x="1329">구분</tspan></text>
<rect class="sub" x="1317" y="479" width="71" height="57"/>
<text class="s" x="1320" y="485">구분</text>
<rect class="ov" x="1325" y="491" width="20" height="8" rx="4"/><text class="oc" x="1335" y="497.2">상위</text>
<rect class="ch" x="1325" y="507" width="57" height="18" rx="4"/>
<text class="l" x="1328" y="514">하위</text>
<text class="s"><tspan x="1328" y="521.5">□ *</tspan><tspan x="1339" class="fk">상위메뉴번호 (FK)</tspan></text></g>

<g id="ent51" class="ent"><rect class="b" x="1318" y="561" width="75" height="33" rx="5"/>
<text class="t" x="1321" y="567">직원별권한가능메뉴</text>
<text class="s"><tspan x="1322" y="575">□ #</tspan><tspan x="1333" class="fk">메뉴번호 (FK)</tspan><tspan x="1322" y="580.7">□ #</tspan><tspan x="1333" class="fk">직원 번호 (FK)</tspan></text></g>

<g id="ent52" class="ent"><rect class="b" x="639" y="531" width="155" height="62" rx="5"/>
<text class="t" x="642" y="537">상담신청</text>
<text class="s"><tspan x="644" y="544">□ #</tspan><tspan x="655">상담신청 번호</tspan><tspan x="644" y="549.8">□ o</tspan><tspan x="655">신청일자</tspan><tspan x="644" y="555.6">□ o</tspan><tspan x="655">희망상담시간</tspan><tspan x="644" y="561.4">□ o</tspan><tspan x="655">상담희망일시</tspan><tspan x="644" y="567.2">□ o</tspan><tspan x="655">상담희망요일</tspan><tspan x="644" y="573">□ o</tspan><tspan x="655">상담 주제</tspan><tspan x="644" y="578.8">□ o</tspan><tspan x="655">상담 내용</tspan><tspan x="644" y="584.6">□ *</tspan><tspan x="655">상담 진행</tspan></text>
<text class="l"><tspan x="644" y="591.5">□ *</tspan><tspan x="658" class="fk">회원번호 (FK)</tspan></text></g>

<g id="ent53" class="ent"><rect class="b" x="853" y="528" width="79" height="86" rx="5"/>
<text class="t" x="856" y="533.5">사용자 변경이력</text>
<text class="s"><tspan x="858" y="542">□ #</tspan><tspan x="869">사용자변경이력번호</tspan><tspan x="858" y="547.8">□ *</tspan><tspan x="869">사용자 상태변경일자</tspan><tspan x="858" y="553.6">□ *</tspan><tspan x="869">이전 사용자 이름</tspan><tspan x="858" y="559.4">□ *</tspan><tspan x="869">이전 사용자 직급</tspan><tspan x="858" y="565.2">□ *</tspan><tspan x="869">이전 사용자 주소</tspan><tspan x="858" y="571">□ *</tspan><tspan x="869">이전 사용자 구분</tspan><tspan x="858" y="576.8">□ *</tspan><tspan x="869">이전 사용자 아이디</tspan><tspan x="858" y="582.6">□ *</tspan><tspan x="869">이전 사용자 비밀번호</tspan><tspan x="858" y="588.4">□ *</tspan><tspan x="869">이전 사용자 월급</tspan><tspan x="858" y="594.2">□ *</tspan><tspan x="869">이전 사용자 휴대폰</tspan><tspan x="858" y="600">□ *</tspan><tspan x="869">이전 사용자 이메일</tspan><tspan x="858" y="605.8">□ *</tspan><tspan x="869" class="fk">사용자 번호 (FK)</tspan></text></g>

<g id="ent54" class="ent"><rect class="b" x="981" y="535" width="131" height="80" rx="5"/>
<text class="t" x="984" y="541">상담</text>
<text class="s"><tspan x="986" y="549">□ #</tspan><tspan x="997">상담 번호</tspan><tspan x="986" y="554.8">□ *</tspan><tspan x="997">상담 제목</tspan><tspan x="986" y="560.6">□ *</tspan><tspan x="997">상담 내용</tspan><tspan x="986" y="566.4">□ *</tspan><tspan x="997">상담 일자</tspan><tspan x="986" y="572.2">□ *</tspan><tspan x="997" class="fk">상담자 (FK)</tspan><tspan x="986" y="578">□ o</tspan><tspan x="997">종료기간</tspan><tspan x="986" y="583.8">□ o</tspan><tspan x="997">종료여부</tspan><tspan x="986" y="589.6">□ o</tspan><tspan x="997">종료일자</tspan><tspan x="986" y="595.4">□ *</tspan><tspan x="997" class="fk">회원번호 (FK)</tspan><tspan x="986" y="601.2">□ *</tspan><tspan x="997" class="fk">상담종류번호 (FK)</tspan></text></g>

<g id="ent55" class="ent"><rect class="b" x="1167" y="551" width="87" height="39" rx="5"/>
<text class="tm" x="1170" y="557.5">직급 변경이력</text>
<text class="m"><tspan x="1171" y="566">□ #</tspan><tspan x="1184">직급 변경 이력 번호</tspan><tspan x="1171" y="573">□ *</tspan><tspan x="1184" class="fk">직급번호 (FK)</tspan><tspan x="1171" y="580">□ *</tspan><tspan x="1184">직급명</tspan><tspan x="1171" y="587">□ *</tspan><tspan x="1184">비고</tspan></text></g>

<g id="ent56" class="ent"><rect class="b" x="1167" y="620" width="87" height="38" rx="5"/>
<text class="t" x="1170" y="626">직급</text>
<text class="s"><tspan x="1171" y="634">□ #</tspan><tspan x="1182">직급번호</tspan><tspan x="1171" y="640">□ *</tspan><tspan x="1182">직급명</tspan><tspan x="1171" y="646">□ *</tspan><tspan x="1182">사용여부</tspan><tspan x="1171" y="652">□ o</tspan><tspan x="1182">비고</tspan></text></g>

<g id="ent57" class="ent"><rect class="b" x="1315" y="619" width="79" height="39" rx="5"/>
<text class="t" x="1318" y="625">권한</text>
<text class="s"><tspan x="1319" y="633">□ #</tspan><tspan x="1330">권한 번호</tspan><tspan x="1319" y="639">□ o</tspan><tspan x="1330">권한명</tspan></text></g>

<g id="ent58" class="ent"><rect class="b" x="639" y="612" width="152" height="77" rx="5"/>
<text class="t" x="642" y="618">강사업무일지</text>
<text class="s"><tspan x="644" y="625">□ #</tspan><tspan x="655">강사업무일지번호</tspan><tspan x="644" y="630.9">□ *</tspan><tspan x="655">강사업무일지일자</tspan><tspan x="644" y="636.8">□ *</tspan><tspan x="655">강사업무일지제목</tspan><tspan x="644" y="642.7">□ *</tspan><tspan x="655" class="fk">작성자 (FK)</tspan><tspan x="644" y="648.6">□ *</tspan><tspan x="655">강사업무일지내용</tspan><tspan x="644" y="654.5">□ *</tspan><tspan x="655">업무일지확인일자</tspan><tspan x="644" y="660.4">□ o</tspan><tspan x="655">강조사항</tspan><tspan x="644" y="666.3">□ *</tspan><tspan x="655" class="fk">반 번호 (FK)</tspan><tspan x="644" y="672.2">□ *</tspan><tspan x="655">확인상태</tspan><tspan x="644" y="678.1">□ *</tspan><tspan x="655" class="fk">확인자 (FK)</tspan><tspan x="644" y="684">□ o</tspan><tspan x="655">확인여부</tspan></text></g>

<g id="ent59" class="ent"><rect class="b" x="856" y="642" width="74" height="41" rx="5"/>
<text class="t" x="859" y="648">직원사진</text>
<text class="s"><tspan x="860" y="656">□ #</tspan><tspan x="871">사진번호</tspan><tspan x="860" y="661.8">□ *</tspan><tspan x="871">사진명</tspan><tspan x="860" y="667.6">□ *</tspan><tspan x="871">사진파일경로</tspan><tspan x="860" y="673.4">□ *</tspan><tspan x="871">사진파일원본이름</tspan><tspan x="860" y="679.2">□ *</tspan><tspan x="871" class="fk">사용자 번호 (FK)</tspan></text></g>

<g id="ent60" class="ent"><rect class="b" x="977" y="674" width="130" height="118" rx="5"/>
<text class="t" x="980" y="680">사용자</text>
<text class="s"><tspan x="981" y="689">□ #</tspan><tspan x="993">사용자 번호</tspan><tspan x="981" y="694.7">□ *</tspan><tspan x="993">사용자 이름</tspan><tspan x="981" y="700.4">□ *</tspan><tspan x="993">사용자 구분</tspan><tspan x="981" y="706.1">□ *</tspan><tspan x="993">사용자 아이디</tspan><tspan x="981" y="711.8">□ *</tspan><tspan x="993">사용자 비밀번호</tspan><tspan x="981" y="717.5">□ *</tspan><tspan x="993">사용자 월급</tspan><tspan x="981" y="723.2">□ *</tspan><tspan x="993">사용자 휴대폰</tspan><tspan x="981" y="728.9">□ *</tspan><tspan x="993">사용자 이메일</tspan><tspan x="981" y="734.6">□ *</tspan><tspan x="993">사용자 상태</tspan></text>
<rect class="sub" x="1037" y="685" width="66" height="86"/>
<text class="s" x="1040" y="691.5">사용자 구분</text>
<rect class="ch" x="1043" y="700" width="53" height="25" rx="4"/>
<text class="l" x="1046" y="707.5">직원</text>
<text class="s"><tspan x="1046" y="715">□ *</tspan><tspan x="1057" class="fk">부서번호 (FK)</tspan><tspan x="1046" y="721">□ *</tspan><tspan x="1057" class="fk">직급번호 (FK)</tspan></text>
<rect class="ov" x="1040" y="747.5" width="22" height="9" rx="4.5"/><text class="oc" x="1051" y="754.2">강사</text></g>

<g id="ent61" class="ent"><rect class="b" x="1167" y="681" width="89" height="40" rx="5"/>
<text class="t" x="1170" y="687">부서</text>
<text class="s"><tspan x="1171" y="695.5">□ #</tspan><tspan x="1182">부서번호</tspan><tspan x="1171" y="701">□ *</tspan><tspan x="1182">부서명</tspan><tspan x="1171" y="706.5">□ *</tspan><tspan x="1182">사용여부</tspan><tspan x="1171" y="712">□ o</tspan><tspan x="1182">비고</tspan><tspan x="1171" y="717.5">□ o</tspan><tspan x="1182">부서 전화번호</tspan></text></g>

<g id="ent62" class="ent"><rect class="b" x="1319" y="687" width="79" height="35" rx="5"/>
<text class="t" x="1322" y="693">부서별 권한</text>
<text class="s"><tspan x="1324" y="702">□ #</tspan><tspan x="1336" class="fk">부서번호 (FK)</tspan><tspan x="1324" y="708">□ #</tspan><tspan x="1336" class="fk">권한 번호 (FK)</tspan></text></g>

<g id="ent63" class="ent"><rect class="b" x="1167" y="735" width="90" height="53" rx="5"/>
<text class="tm" x="1170" y="742">부서 변경이력</text>
<text class="m"><tspan x="1170" y="751">□ #</tspan><tspan x="1184">부서 변경이력 번호</tspan><tspan x="1170" y="758">□ *</tspan><tspan x="1184" class="fk">부서번호 (FK)</tspan><tspan x="1170" y="765">□ *</tspan><tspan x="1184">부서명</tspan><tspan x="1170" y="772">□ *</tspan><tspan x="1184">비고</tspan><tspan x="1170" y="779">□ *</tspan><tspan x="1184">부서 전화번호</tspan></text></g>

<g id="ent64" class="ent"><rect class="b" x="1323" y="762" width="77" height="61" rx="5"/>
<text class="tm" x="1326" y="768.5">부서별 권한 변경이력</text>
<text class="m"><tspan x="1328" y="778">□ #</tspan><tspan x="1342">권한 변경이력 번호</tspan><tspan x="1328" y="785">□ *</tspan><tspan x="1342" class="fk">권한 번호 (FK)</tspan><tspan x="1328" y="792">□ *</tspan><tspan x="1342">권한명</tspan><tspan x="1328" y="799">□ *</tspan><tspan x="1342" class="fk">부서번호 (FK)</tspan></text></g>

<g id="ent65" class="ent"><rect class="b" x="639" y="745" width="150" height="35" rx="5"/>
<text class="t" x="642" y="751">반별 강사배정</text>
<text class="s"><tspan x="642" y="760">□ #</tspan><tspan x="654" class="fk">반 번호 (FK)</tspan><tspan x="642" y="766">□ *</tspan><tspan x="654">강사별 등록일</tspan><tspan x="642" y="772">□ *</tspan><tspan x="654" class="fk">사용자 번호 (FK)</tspan></text></g>

<g id="ent66" class="ent"><rect class="b" x="637" y="798" width="151" height="168" rx="5"/>
<text class="t" x="640" y="804">수납</text>
<text class="s"><tspan x="641" y="813">□ #</tspan><tspan x="652">납부번호</tspan><tspan x="641" y="818.8">□ o</tspan><tspan x="652">할인 번호</tspan><tspan x="641" y="824.6">□ *</tspan><tspan x="652">수납일자</tspan><tspan x="641" y="830.4">□ *</tspan><tspan x="652">수납방법</tspan><tspan x="641" y="836.2">□ *</tspan><tspan x="652" class="fk">담당자 (FK)</tspan><tspan x="641" y="842">□ o</tspan><tspan x="652">비고</tspan><tspan x="641" y="847.8">□ *</tspan><tspan x="652" class="fk">접수번호 (FK)</tspan></text>
<rect class="sub" x="639" y="855" width="77" height="105"/>
<text class="s" x="642" y="861">수납방법</text>
<rect class="ch" x="645" y="873" width="63" height="18" rx="4"/>
<text class="xl" x="648" y="881.5">현금</text>
<text class="s"><tspan x="648" y="888.5">□ o</tspan><tspan x="659">현금영수증발행여부</tspan></text>
<rect class="ch" x="645" y="901" width="63" height="18" rx="4"/>
<text class="xl" x="648" y="909.5">계좌</text>
<text class="s"><tspan x="648" y="916.5">□ o</tspan><tspan x="659">현금영수증발행여부</tspan></text>
<rect class="ch" x="645" y="929" width="58" height="25" rx="4"/>
<text class="l" x="648" y="937">카드</text>
<text class="s"><tspan x="648" y="944">□ *</tspan><tspan x="659" class="fk">카드종류번호 (FK)</tspan><tspan x="648" y="950">□ *</tspan><tspan x="659">카드 할부개월</tspan></text></g>

<g id="ent67" class="ent"><rect class="b" x="970" y="861" width="138" height="107" rx="5"/>
<text class="t" x="973" y="867">환불</text>
<text class="s"><tspan x="975" y="876">□ #</tspan><tspan x="986">환불번호</tspan><tspan x="975" y="881.7">□ *</tspan><tspan x="986">환불액</tspan><tspan x="975" y="887.4">□ *</tspan><tspan x="986">환불방법</tspan><tspan x="975" y="893.1">□ *</tspan><tspan x="986">환불일자</tspan><tspan x="975" y="898.8">□ *</tspan><tspan x="986">환불사유</tspan><tspan x="975" y="904.5">□ o</tspan><tspan x="986">비고</tspan><tspan x="975" y="910.2">□ *</tspan><tspan x="986" class="fk">납부번호 (FK)</tspan><tspan x="975" y="915.9">□ *</tspan><tspan x="986" class="fk">환불자 (FK)</tspan></text>
<rect class="sub" x="974" y="920" width="63" height="41"/>
<text class="s" x="977" y="926">환불방법</text>
<rect class="ov" x="983" y="934" width="20" height="8" rx="4"/><text class="oc" x="993" y="940.2">카드</text>
<rect class="ov" x="1010" y="934" width="20" height="8" rx="4"/><text class="oc" x="1020" y="940.2">계좌</text>
<rect class="ov" x="983" y="949" width="20" height="8" rx="4"/><text class="oc" x="993" y="955.2">현금</text></g>

<g id="ent68" class="ent"><rect class="b" x="1167" y="802" width="91" height="82" rx="5"/>
<text class="t" x="1170" y="808">직원 업무일지</text>
<text class="s"><tspan x="1171" y="816">□ *</tspan><tspan x="1182" class="fk">작성자 (FK)</tspan><tspan x="1171" y="821.8">□ #</tspan><tspan x="1182">직원업무일지번호</tspan><tspan x="1171" y="827.6">□ *</tspan><tspan x="1182">업무일지제목</tspan><tspan x="1171" y="833.4">□ o</tspan><tspan x="1182">직원업무일지</tspan><tspan x="1171" y="839.2">□ o</tspan><tspan x="1182">비고</tspan><tspan x="1171" y="845">□ *</tspan><tspan x="1182">직원업무일지일자</tspan><tspan x="1171" y="850.8">□ *</tspan><tspan x="1182">확인상태</tspan><tspan x="1171" y="856.6">□ o</tspan><tspan x="1182">확인여부</tspan><tspan x="1171" y="862.4">□ *</tspan><tspan x="1182" class="fk">확인자 (FK)</tspan><tspan x="1171" y="868.2">□ *</tspan><tspan x="1182" class="fk">직원업무일지종류번호 (FK)</tspan></text></g>

<g id="ent69" class="ent"><rect class="b" x="1322" y="836" width="79" height="47" rx="5"/>
<text class="t" x="1325" y="842">업무일지종류</text>
<text class="s"><tspan x="1326" y="850">□ #</tspan><tspan x="1337">직원업무일지종류번호</tspan><tspan x="1326" y="855.7">□ *</tspan><tspan x="1337">직원업무일지종류이름</tspan><tspan x="1326" y="861.4">□ *</tspan><tspan x="1337">사용여부</tspan></text></g>

<g id="ent70" class="ent"><rect class="b" x="1164" y="910" width="92" height="61" rx="5"/>
<text class="t" x="1167" y="916">게시판</text>
<text class="s"><tspan x="1169" y="924">□ #</tspan><tspan x="1180">게시판번호</tspan><tspan x="1169" y="929.7">□ *</tspan><tspan x="1180">게시판제목</tspan><tspan x="1169" y="935.4">□ *</tspan><tspan x="1180">게시판내용</tspan><tspan x="1169" y="941.1">□ *</tspan><tspan x="1180">게시판작성일자</tspan><tspan x="1169" y="946.8">□ *</tspan><tspan x="1180">조회수</tspan><tspan x="1169" y="952.5">□ *</tspan><tspan x="1180" class="fk">작성자 (FK)</tspan><tspan x="1169" y="958.2">□ *</tspan><tspan x="1180">게시판 분류</tspan></text></g>

<g id="ent71" class="ent"><rect class="b" x="1324" y="909" width="82" height="57" rx="5"/>
<text class="t" x="1327" y="915">게시판 첨부파일</text>
<text class="s"><tspan x="1328" y="923">□ #</tspan><tspan x="1339">게시판첨부파일번호</tspan><tspan x="1328" y="928.7">□ *</tspan><tspan x="1339">게시판 첨부파일명</tspan><tspan x="1328" y="934.4">□ *</tspan><tspan x="1339">게시판 첨부파일경로</tspan><tspan x="1328" y="940.1">□ *</tspan><tspan x="1339">게시판 첨부파일원본이름</tspan><tspan x="1328" y="945.8">□ *</tspan><tspan x="1339" class="fk">게시판번호 (FK)</tspan></text></g>

<g id="ent72" class="ent"><rect class="b" x="856" y="427" width="78" height="54" rx="5"/>
<text class="t" x="859" y="433">휴퇴원사유</text>
<text class="s"><tspan x="860" y="441">□ #</tspan><tspan x="871">휴퇴원사유번호</tspan><tspan x="860" y="446.8">□ *</tspan><tspan x="871">휴퇴원사유이름</tspan><tspan x="860" y="452.6">□ *</tspan><tspan x="871">사용여부</tspan><tspan x="860" y="458.4">□ o</tspan><tspan x="871">비고</tspan></text></g>

<g id="connectors">
<path d="M61,97V114" marker-start="url(#cf)"/><path class="d" d="M61,114V131"/>
<path class="d" d="M111,152H143"/><path d="M143,152H176" marker-end="url(#cf)"/>
<path d="M261,152H315V318" marker-start="url(#cf)"/><path class="d" d="M315,318H368"/>
<path d="M266,63H341V163" marker-start="url(#cf)"/><path class="d" d="M341,163V312H368"/>
<path d="M198,177V207" marker-end="url(#cf)"/>
<path d="M113,219H175" marker-end="url(#cf)"/>
<path class="d" d="M66,251V275"/><path d="M66,275V299" marker-end="url(#cf)"/>
<path class="d" d="M227,282V300" marker-end="url(#cb)"/>
<path d="M264,333H315" marker-start="url(#cb)"/><path class="d" d="M315,333H368"/>
<path class="d" d="M117,404H150"/><path d="M150,404H183" marker-end="url(#cb)"/>
<path d="M263,409H313" marker-start="url(#cb)"/><path class="d" d="M313,409H365"/>
<path class="d" d="M229,513V461H270"/><path d="M270,461H365" marker-end="url(#cf)"/>
<path d="M268,654H323V640" marker-start="url(#cf)"/><path class="d" d="M323,640V477H365"/>
<path d="M110,652H147V600" marker-start="url(#cf)"/><path class="d" d="M147,600V532H181"/>
<path d="M269,790H308" marker-start="url(#cf)"/><path class="d" d="M308,790H345"/>
<path class="d" d="M454,59H470"/><path d="M470,59H489" marker-end="url(#cf)"/>
<path class="d" d="M410,76V90"/><path d="M410,90V104" marker-end="url(#cf)"/>
<path d="M399,159V175" marker-start="url(#cf)"/><path class="d" d="M399,175V192"/>
<path d="M525,154V173" marker-start="url(#cf)"/><path class="d" d="M525,173V192"/>
<path d="M557,229H601" marker-start="url(#cf)"/><path class="d" d="M601,229H645"/>
<path d="M459,262V277" marker-start="url(#cf)"/><path class="d" d="M459,277V298"/>
<path d="M463,362V376" marker-start="url(#cf)"/><path class="d" d="M463,376V393"/>
<path class="d" d="M507,488V505" marker-end="url(#cf)"/>
<path class="d" d="M560,334H605V484"/><path d="M605,484V640H639" marker-end="url(#cf)"/>
<path class="d" d="M645,352H569V510"/><path d="M569,510V743H559" marker-end="url(#cf)"/>
<path class="d" d="M645,347H583V510"/><path d="M583,510V761H639" marker-end="url(#cb)"/>
<path class="d" d="M796,210H898"/><path d="M898,210H999" marker-end="url(#cf)"/>
<path class="d" d="M747,191V134"/><path d="M747,134V129H779" marker-end="url(#cf)"/>
<path class="d" d="M729,59H764"/><path d="M764,59H798" marker-end="url(#cf)"/>
<path class="d" d="M677,76V92"/><path d="M677,92V105" marker-end="url(#cf)"/>
<path d="M685,154V175" marker-start="url(#cf)"/><path class="d" d="M685,175V191"/>
<path class="d" d="M796,296H826"/><path d="M826,296H853" marker-end="url(#cf)"/>
<path class="d" d="M796,408H889"/><path d="M889,408H982" marker-end="url(#cf)"/>
<path d="M760,413V451H789" marker-start="url(#cf)"/><path class="d" d="M789,451H856"/>
<path d="M707,415V466H757" marker-start="url(#cf)"/><path class="d" d="M757,466H856"/>
<path class="d" d="M664,378V455"/><path d="M664,455H675V531"/>
<path class="d" d="M692,443V514H840"/><path d="M840,514H1040V535" marker-end="url(#cf)"/>
<path class="d" d="M1074,504V535" marker-end="url(#cf)"/>
<path class="d" d="M1022,439V462" marker-start="url(#cf)"/>
<path class="d" d="M1144,312H1069"/><path d="M1069,312V383" marker-end="url(#cf)"/>
<path d="M1111,436H1142" marker-start="url(#cf)"/><path class="d" d="M1142,436H1175"/>
<path d="M1261,390H1275" marker-start="url(#cf)"/><path class="d" d="M1275,390H1294"/>
<path class="d" d="M1313,456H1308V480"/><path d="M1308,480V516H1325" marker-end="url(#cf)"/>
<path class="d" d="M1340,539V561" marker-end="url(#cb)"/>
<path class="d" d="M1347,594V619" marker-start="url(#cb)"/>
<path class="d" d="M1195,590V620" marker-start="url(#cf)"/>
<path class="d" d="M1167,639H1075"/><path d="M1075,639V700" marker-end="url(#cf)"/>
<path d="M1096,712H1137" marker-start="url(#cf)"/><path class="d" d="M1137,712H1167"/>
<path class="d" d="M1349,658V687" marker-end="url(#cb)"/>
<path class="d" d="M1256,700H1289"/><path d="M1289,700H1319" marker-end="url(#cb)"/>
<path class="d" d="M1199,721V735" marker-end="url(#cf)"/>
<path class="d" d="M1349,722V745"/><path d="M1349,745V762" marker-end="url(#cf)"/>
<path class="d" d="M1107,744H1137V790"/><path d="M1137,790V812H1167" marker-end="url(#cf)"/>
<path class="d" d="M1107,756H1127V790"/><path d="M1127,790V848H1167" marker-end="url(#cf)"/>
<path class="d" d="M1107,774H1119V850"/><path d="M1119,850V945H1164" marker-end="url(#cf)"/>
<path d="M1258,869H1289" marker-start="url(#cf)"/><path class="d" d="M1289,869H1322"/>
<path class="d" d="M1256,942H1290"/><path d="M1290,942H1324" marker-end="url(#cf)"/>
<path d="M932,587H959V600" marker-start="url(#cf)"/><path class="d" d="M959,600V686H977"/>
<path d="M891,683V699H938" marker-start="url(#cf)"/><path class="d" d="M938,699H977"/>
<path d="M736,689V716H844" marker-start="url(#cf)"/><path class="d" d="M844,716H977"/>
<path d="M717,689V733H827" marker-start="url(#cf)"/><path class="d" d="M827,733H977"/>
<path d="M789,763H926" marker-start="url(#cf)"/><path class="d" d="M926,763H977"/>
<path d="M788,819H902" marker-start="url(#cf)"/><path class="d" d="M902,819H986V792"/>
<path class="d" d="M1026,792V826"/><path d="M1026,826V861" marker-end="url(#cf)"/>
<path class="d" d="M788,940H879"/><path d="M879,940H970" marker-end="url(#cf)"/>
<path class="d" d="M525,814V850H562"/><path d="M562,850H637" marker-end="url(#cf)"/>
<path d="M437,665H490" marker-start="url(#cf)"/><path class="d" d="M490,665H518V730"/>
<path d="M551,653V688" marker-start="url(#cf)"/><path class="d" d="M551,688V730"/>
<path d="M390,681V708" marker-start="url(#cf)"/><path class="d" d="M390,708V734"/>
<path d="M443,932H465" marker-start="url(#cf)"/><path class="d" d="M465,932H487"/>
<path class="d" d="M563,937H600"/><path d="M600,937H645" marker-end="url(#cf)"/>
<path class="d" d="M1061,218V238" marker-end="url(#cf)"/>
<path d="M1114,199H1179" marker-start="url(#cf)"/><path class="d" d="M1179,199H1240"/>
<path class="d" d="M1120,72V84" marker-end="url(#cf)"/>
<path class="d" d="M1187,26H1214" marker-end="url(#cf)"/>
<path class="d" d="M1193,108H1243"/><path d="M1243,108H1274V128" marker-end="url(#cf)"/>
<path d="M1034,127H1098"/>
<path d="M1047,615V648" marker-start="url(#cf)"/><path class="d" d="M1047,648V674"/>
</g>
</svg>
